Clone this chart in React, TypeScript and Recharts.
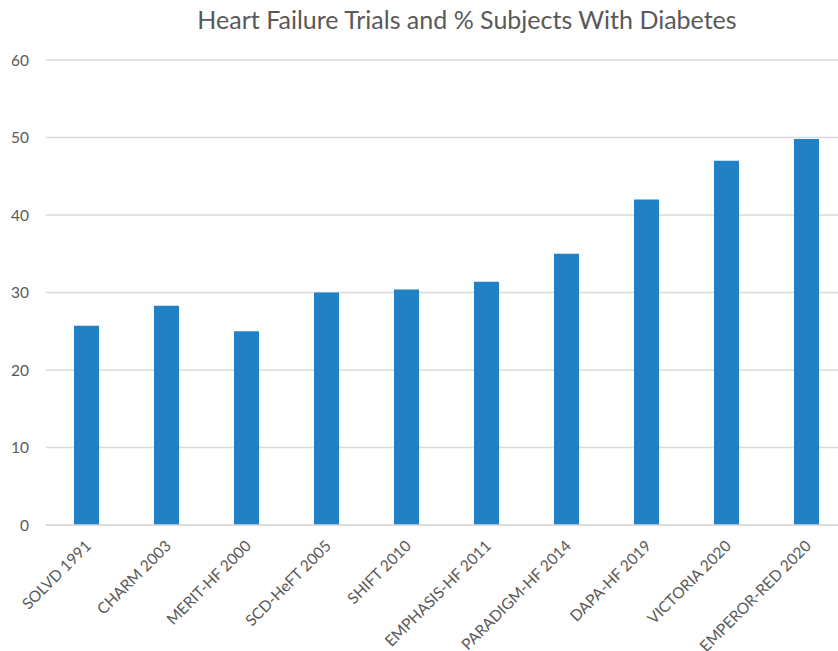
import React from "react";
import { BarChart, Bar, XAxis, YAxis, CartesianGrid } from "recharts";

const trials = [
  "SOLVD 1991",
  "CHARM 2003",
  "MERIT-HF 2000",
  "SCD-HeFT 2005",
  "SHIFT 2010",
  "EMPHASIS-HF 2011",
  "PARADIGM-HF 2014",
  "DAPA-HF 2019",
  "VICTORIA 2020",
  "EMPEROR-RED 2020",
];
const diabetesPct = [25.7, 28.3, 25, 30, 30.4, 31.4, 35, 42, 47, 49.8];
const yTicks = [0, 10, 20, 30, 40, 50, 60];

const chartData = trials.map((name, i) => ({ name, value: diabetesPct[i] }));

const FONT = "Lato, 'Open Sans', sans-serif";
const TEXT = "#595959";

function AngledTick(props: any) {
  const { x, y, payload } = props;
  return (
    <g transform={`translate(${x + 6},${y + 14})`}>
      <text
        textAnchor="end"
        transform="rotate(-45)"
        fontSize={15.5}
        fontFamily={FONT}
        fill={TEXT}
      >
        {payload.value}
      </text>
    </g>
  );
}

export default function App() {
  return (
    <div
      style={{
        position: "absolute",
        left: 0,
        top: 0,
        width: 838,
        height: 651,
        overflow: "hidden",
        background: "#fff",
      }}
    >
      <div
        style={{
          position: "absolute",
          top: 4,
          left: 0,
          width: 934,
          textAlign: "center",
          fontFamily: FONT,
          fontSize: 25,
          color: TEXT,
        }}
      >
        Heart Failure Trials and % Subjects With Diabetes
      </div>
      <BarChart
        width={850}
        height={651}
        data={chartData}
        margin={{ top: 60, right: 4, left: 0, bottom: 0 }}
      >
        <CartesianGrid vertical={false} stroke="#d9d9d9" strokeWidth={1.5} />
        <XAxis
          dataKey="name"
          interval={0}
          height={126}
          tick={<AngledTick />}
          tickLine={false}
          axisLine={{ stroke: "#d9d9d9", strokeWidth: 1.5 }}
        />
        <YAxis
          width={46}
          domain={[0, 60]}
          ticks={yTicks}
          axisLine={false}
          tickLine={false}
          tickMargin={11}
          tick={{ fontSize: 15.5, fontFamily: FONT, fill: TEXT }}
        />
        <Bar
          dataKey="value"
          fill="#2281c4"
          barSize={25}
          isAnimationActive={false}
        />
      </BarChart>
    </div>
  );
}
